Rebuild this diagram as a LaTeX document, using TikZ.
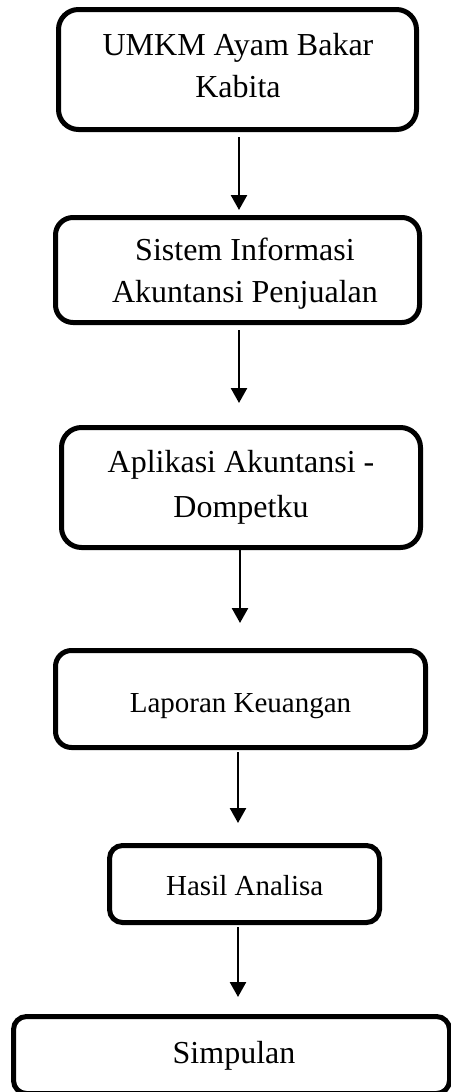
\documentclass[tikz,border=0pt]{standalone}
\usepackage{fontspec}
\setmainfont{Liberation Serif}
\usetikzlibrary{arrows.meta}
\begin{document}
\begin{tikzpicture}[x=1pt,y=-1pt,
  boxstyle/.style={draw=black, line width=5pt, inner sep=0pt, outer sep=0pt},
  bigtext/.style={anchor=base, inner sep=0pt, font=\fontsize{32}{38}\selectfont},
  smalltext/.style={anchor=base, inner sep=0pt, font=\fontsize{29}{35}\selectfont},
  arr/.style={line width=2.5pt, -{Triangle[width=16pt,length=15pt]}}]
\useasboundingbox[fill=white] (0,0) rectangle (450,1092);

\node[boxstyle, minimum width=358pt, minimum height=120pt, rounded corners=20pt] (b1) at (237.5,69.5) {};
\node[boxstyle, minimum width=364pt, minimum height=105pt, rounded corners=17.5pt] (b2) at (237.5,270) {};
\node[boxstyle, minimum width=359pt, minimum height=120pt, rounded corners=20pt] (b3) at (241,487.5) {};
\node[boxstyle, minimum width=370pt, minimum height=97pt, rounded corners=16pt] (b4) at (240.5,699) {};
\node[boxstyle, minimum width=270pt, minimum height=77pt, rounded corners=13pt] (b5) at (244.5,884) {};
\node[boxstyle, minimum width=436pt, minimum height=77pt, rounded corners=13pt] (b6) at (231.5,1055) {};

\node[bigtext] (t1a) at (238,55) {UMKM Ayam Bakar};
\node[bigtext] (t1b) at (238,97) {Kabita};
\node[bigtext] (t2a) at (245,260) {Sistem Informasi};
\node[bigtext] (t2b) at (245,302) {Akuntansi Penjualan};
\node[bigtext] (t3a) at (241,472) {Aplikasi Akuntansi -};
\node[bigtext] (t3b) at (241,517) {Dompetku};
\node[smalltext] (t4) at (240.5,712) {Laporan Keuangan};
\node[smalltext] (t5) at (244.7,895) {Hasil Analisa};
\node[bigtext] (t6) at (234,1063) {Simpulan};

\draw[arr] ([xshift=1.5pt,yshift=-7.5pt]b1.south) -- ([xshift=1.5pt,yshift=7.5pt]b2.north);
\draw[arr] ([xshift=1.5pt,yshift=-7.5pt]b2.south) -- ([xshift=-2pt,yshift=24.5pt]b3.north);
\draw[arr] ([xshift=-1pt,yshift=-2.5pt]b3.south) -- ([xshift=-0.5pt,yshift=27.5pt]b4.north);
\draw[arr] ([xshift=-2.5pt,yshift=-4.5pt]b4.south) -- ([xshift=-6.5pt,yshift=22.5pt]b5.north);
\draw[arr] ([xshift=-6.5pt,yshift=-4.5pt]b5.south) -- ([xshift=6.5pt,yshift=19.5pt]b6.north);
\end{tikzpicture}
\end{document}
